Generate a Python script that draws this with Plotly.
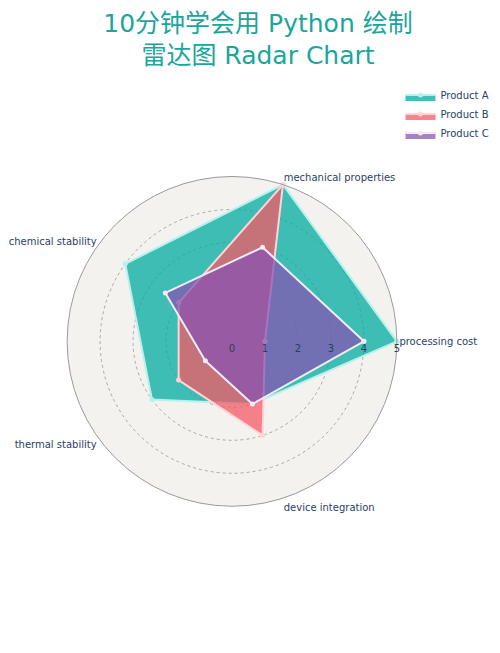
import plotly.graph_objects as go

categories = ['processing cost', 'mechanical properties', 'chemical stability',
              'thermal stability', 'device integration']

product_a = [5, 5, 4, 3, 2]
product_b = [1, 5, 2, 2, 3]
product_c = [4, 3, 2.5, 1, 2]

names = ['Product A', 'Product B', 'Product C']
fills = ['rgba(0,171,160,0.75)', 'rgba(244,89,102,0.75)', 'rgba(135,80,178,0.72)']
lines = ['#b8f1ec', '#ffd3d8', '#f3eaf8']

fig = go.Figure()

for name, vals, fc, lc in zip(names, [product_a, product_b, product_c], fills, lines):
    fig.add_trace(go.Scatterpolar(
        r=vals + vals[:1],
        theta=categories + categories[:1],
        fill='toself',
        fillcolor=fc,
        mode='lines+markers',
        line=dict(color=lc, width=2),
        marker=dict(color=lc, size=5),
        name=name,
    ))

fig.update_layout(
    width=500,
    height=653,
    font=dict(family='DejaVu Sans, Noto Sans CJK SC', size=10, color='#2a3f5f'),
    paper_bgcolor='white',
    title=dict(
        text='10分钟学会用 Python 绘制<br>雷达图 Radar Chart',
        x=0.5, xanchor='center',
        y=0.964, yanchor='middle', yref='container',
        font=dict(size=25, color='#1ba59c', family='DejaVu Sans, Noto Sans CJK SC'),
    ),
    margin=dict(l=0, r=0, t=0, b=0),
    showlegend=True,
    legend=dict(x=0.785, xanchor='left', y=0.889, yanchor='top',
                font=dict(size=10), bgcolor='rgba(0,0,0,0)'),
    polar=dict(
        domain=dict(x=[0.118, 0.778], y=[0.237, 0.742]),
        bgcolor='#f3f2ef',
        radialaxis=dict(
            visible=True, range=[0, 5], dtick=1,
            showline=False, ticks='',
            gridcolor='#a9a9a9', griddash='dot', gridwidth=1,
            tickfont=dict(size=10, color='#2a3f5f'),
        ),
        angularaxis=dict(
            showgrid=False, showline=True, linecolor='#9a9a9a', linewidth=1,
            ticks='', tickfont=dict(size=10, color='#2a3f5f'),
        ),
    ),
)

fig.write_html("out.html")
